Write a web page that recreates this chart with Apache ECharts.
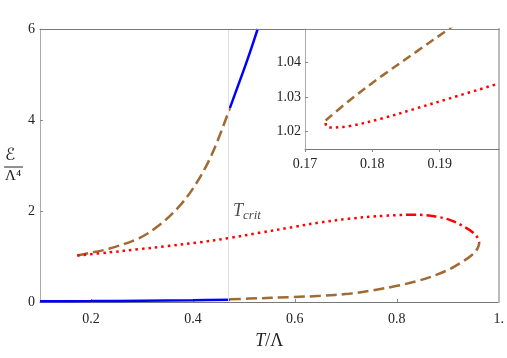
<!DOCTYPE html>
<html><head><meta charset="utf-8">
<script src="https://cdn.jsdelivr.net/npm/echarts@6/dist/echarts.min.js"></script>
<style>html,body{margin:0;padding:0;background:#fff}#c{width:507px;height:358px}</style>
</head><body><div id="c"></div>
<script>
// ---- tick labels ----
const mainXTicks = [0.2, 0.4, 0.6, 0.8, 1.0];
const mainYTicks = [0, 2, 4, 6];
const insetXTicks = [0.17, 0.18, 0.19];
const insetYTicks = [1.02, 1.03, 1.04];
const tCrit = 0.4725;

// ---- main plot branches (T/Lambda, E/Lambda^4) ----
const blueLowT = [0.10, 0.20, 0.30, 0.40, 0.4725];
const blueLowE = [0.015, 0.02, 0.03, 0.04, 0.05];
const blueHighT = [0.4725, 0.488, 0.503, 0.515, 0.527];
const blueHighE = [4.26, 4.74, 5.20, 5.59, 6.0];
const brownHighT = [0.1731, 0.19, 0.235, 0.294, 0.333, 0.373, 0.405, 0.437, 0.4725];
const brownHighE = [1.023, 1.06, 1.17, 1.40, 1.68, 2.10, 2.58, 3.24, 4.26];
const brownLowT = [0.4725, 0.51, 0.598, 0.65, 0.706, 0.75, 0.798, 0.84, 0.876, 0.905, 0.928, 0.948, 0.958, 0.962];
const brownLowE = [0.06, 0.075, 0.11, 0.135, 0.18, 0.25, 0.35, 0.46, 0.59, 0.73, 0.88, 1.04, 1.17, 1.30];
const redDotT = [0.1731, 0.235, 0.294, 0.35, 0.412, 0.473, 0.53, 0.598, 0.65, 0.706, 0.76, 0.818];
const redDotE = [1.022, 1.09, 1.16, 1.23, 1.31, 1.41, 1.52, 1.65, 1.75, 1.83, 1.885, 1.915];
const redDashDotT = [0.818, 0.845, 0.876, 0.905, 0.928, 0.948, 0.958, 0.962];
const redDashDotE = [1.915, 1.915, 1.88, 1.80, 1.68, 1.54, 1.42, 1.30];

// ---- inset branches ----
const insetBrownT = [0.17306, 0.1766, 0.18158, 0.1865, 0.1915, 0.1935];
const insetBrownE = [1.0232, 1.0290, 1.0363, 1.0430, 1.0498, 1.0525];
const insetRedT = [0.17306, 0.1732, 0.1737, 0.1766, 0.1816, 0.1865, 0.1915, 0.1988];
const insetRedE = [1.0225, 1.0215, 1.0212, 1.0216, 1.0239, 1.0267, 1.0296, 1.0339];

const pairs = (t, e) => t.map((v, i) => [v, e[i]]);
const BROWN = '#a06a35', RED = '#ff0000', BLUE = '#0000ff';
const SERIF = '"Liberation Serif", "DejaVu Serif", serif';
const lbl = {fontFamily: SERIF, fontSize: 14, color: '#222'};

function frameAxis(grid, pos, min, max, color, width) {
  return {type: 'value', gridIndex: grid, position: pos, min: min, max: max,
    axisLine: {show: true, onZero: false, lineStyle: {color: color, width: width}},
    axisTick: {show: false}, axisLabel: {show: false}, splitLine: {show: false}, z: 20};
}
function curve(xi, data, color, type, z) {
  return {type: 'line', xAxisIndex: xi, yAxisIndex: xi, data: data, smooth: 0.35,
    symbol: 'none', z: z || 3, lineStyle: {color: color, width: 2.5, type: type}};
}

const chart = echarts.init(document.getElementById('c'), null, {renderer: 'canvas'});
const blueLow = curve(0, pairs(blueLowT, blueLowE), BLUE, 'solid');
blueLow.markLine = {silent: true, symbol: 'none', label: {show: false},
  lineStyle: {color: '#e0e0e0', width: 1, type: 'solid'}, data: [{xAxis: tCrit}]};
chart.setOption({
  animation: false,
  backgroundColor: '#fff',
  grid: [
    {left: 40, right: 8, top: 29, bottom: 56, show: false},
    {left: 305, right: 8, top: 29, bottom: 209, show: true, backgroundColor: '#fff', borderWidth: 0, z: 10}
  ],
  xAxis: [
    {type: 'value', gridIndex: 0, min: 0.1, max: 1.0, position: 'bottom',
      axisLine: {show: true, onZero: false, lineStyle: {color: '#777', width: 1}},
      axisTick: {show: true, inside: true, length: 3, customValues: mainXTicks, lineStyle: {color: '#888'}},
      axisLabel: Object.assign({customValues: mainXTicks, margin: 10, formatter: v => v === 1 ? '1.' : String(v)}, lbl),
      splitLine: {show: false},
      name: '{i|T}/Λ', nameLocation: 'middle', nameGap: 30,
      nameTextStyle: {fontFamily: SERIF, fontSize: 18, color: '#222',
        rich: {i: {fontFamily: SERIF, fontStyle: 'italic', fontSize: 18, color: '#222'}}}},
    frameAxis(0, 'top', 0.1, 1.0, '#777', 1),
    {type: 'value', gridIndex: 1, min: 0.17, max: 0.1988, position: 'bottom',
      axisLine: {show: true, onZero: false, lineStyle: {color: '#777', width: 1}},
      axisTick: {show: true, inside: false, length: 3, customValues: insetXTicks, lineStyle: {color: '#888'}},
      axisLabel: Object.assign({customValues: insetXTicks, margin: 8}, lbl),
      splitLine: {show: false}, z: 20},
    frameAxis(1, 'top', 0.17, 0.1988, '#888', 1)
  ],
  yAxis: [
    {type: 'value', gridIndex: 0, min: 0, max: 6, position: 'left',
      axisLine: {show: true, onZero: false, lineStyle: {color: '#aaa', width: 1}},
      axisTick: {show: true, inside: true, length: 3, customValues: mainYTicks, lineStyle: {color: '#888'}},
      axisLabel: Object.assign({customValues: mainYTicks, margin: 5}, lbl),
      splitLine: {show: false}},
    frameAxis(0, 'right', 0, 6, '#bbb', 2),
    {type: 'value', gridIndex: 1, min: 1.015, max: 1.0496, position: 'left',
      axisLine: {show: true, onZero: false, lineStyle: {color: '#aaa', width: 1}},
      axisTick: {show: true, inside: true, length: 3, customValues: insetYTicks, lineStyle: {color: '#888'}},
      axisLabel: Object.assign({customValues: insetYTicks, margin: 4}, lbl),
      splitLine: {show: false}, z: 20},
    frameAxis(1, 'right', 1.015, 1.0496, '#bbb', 2)
  ],
  series: [
    blueLow,
    curve(0, pairs(blueHighT, blueHighE), BLUE, 'solid'),
    curve(0, pairs(brownHighT, brownHighE), BROWN, [11, 5]),
    curve(0, pairs(brownLowT, brownLowE), BROWN, [11, 5]),
    curve(0, pairs(redDotT, redDotE), RED, [2.5, 4], 4),
    curve(0, pairs(redDashDotT, redDashDotE), RED, [10, 4, 2.5, 4], 4),
    {type: 'scatter', xAxisIndex: 0, yAxisIndex: 0, data: [[0.506, 1.99]], symbolSize: 0, silent: true,
      label: {show: true, position: 'inside', formatter: '{a|T}{b|crit}',
        rich: {a: {fontFamily: SERIF, fontStyle: 'italic', fontSize: 18, color: '#222'},
               b: {fontFamily: SERIF, fontStyle: 'italic', fontSize: 13, color: '#222', padding: [9, 0, 0, 0]}}}},
    curve(2, pairs(insetBrownT, insetBrownE), BROWN, [9, 5], 12),
    curve(2, pairs(insetRedT, insetRedE), RED, [2.5, 4], 13)
  ],
  graphic: [
    {type: 'text', left: 5, top: 147, style: {text: 'ℰ', font: '17px "DejaVu Sans", "Noto Sans", serif', fill: '#222'}},
    {type: 'line', shape: {x1: 4, y1: 167, x2: 23, y2: 167}, style: {stroke: '#222', lineWidth: 1}},
    {type: 'text', left: 5, top: 169, style: {text: 'Λ⁴', font: '15px ' + SERIF, fill: '#222'}}
  ]
});
</script></body></html>
